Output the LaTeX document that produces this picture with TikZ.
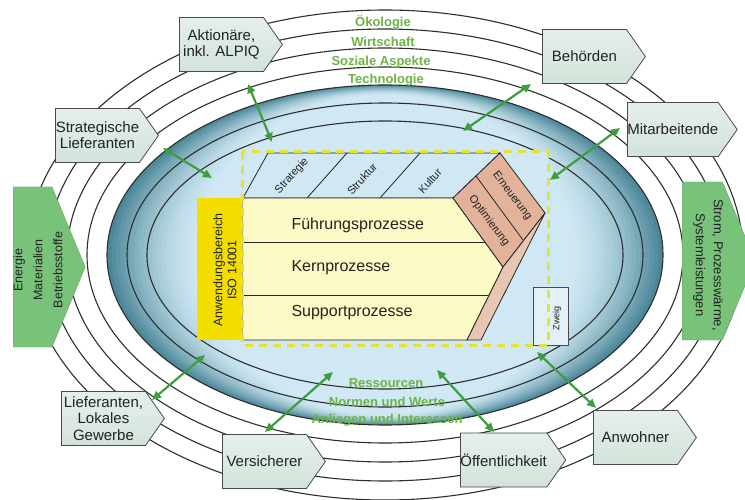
\documentclass[tikz,border=0pt]{standalone}
\usepackage{fontspec}
\setmainfont{Liberation Sans}
\usetikzlibrary{shapes.symbols,arrows.meta}

\definecolor{ringline}{HTML}{2E2E2E}
\definecolor{bedge}{HTML}{4B8799}
\definecolor{bcenter}{HTML}{CFE8F3}
\definecolor{boxfill}{HTML}{D2E3DA}
\definecolor{boxfilltop}{HTML}{E6EFEA}
\definecolor{boxedge}{HTML}{4A4A4A}
\definecolor{textdark}{HTML}{222222}
\definecolor{arrowgreen}{HTML}{3E9E3E}
\definecolor{biggreen}{HTML}{78C27A}
\definecolor{ringtext}{HTML}{6DB444}
\definecolor{isoyellow}{HTML}{F4DE00}
\definecolor{procyellow}{HTML}{FBFAC4}
\definecolor{salmon}{HTML}{E2B39A}
\definecolor{salmonlight}{HTML}{E9C6B2}
\definecolor{dashyellow}{HTML}{E4E236}

\tikzset{
  ringstroke/.style={draw=ringline, line width=1.1pt},
  stakeholder/.style={shape=signal, signal to=east, signal pointer angle=110,
    anchor=west, draw=boxedge, line width=0.8pt,
    top color=boxfilltop, bottom color=boxfill,
    minimum width=103pt, minimum height=54pt, inner sep=0pt, align=center,
    font=\fontsize{15}{16}\selectfont, text=textdark},
  flowarrow/.style={shape=signal, signal to=east, signal pointer angle=135,
    anchor=west, fill=biggreen, draw=biggreen!85!black, line width=0.4pt,
    inner sep=0pt},
  flowtext/.style={align=center, font=\fontsize{12.5}{20}\selectfont, text=textdark},
  ringlabel/.style={font=\bfseries\fontsize{13}{14}\selectfont, text=ringtext},
  link/.style={draw=arrowgreen, line width=2.2pt,
    {Triangle[length=9pt,width=8pt]}-{Triangle[length=9pt,width=8pt]}},
  procline/.style={draw=black!85, line width=0.8pt},
  proclabel/.style={font=\fontsize{16}{18}\selectfont, anchor=west, text=textdark},
  facetlabel/.style={font=\fontsize{11}{12}\selectfont, text=textdark},
}

\begin{document}
\begin{tikzpicture}[x=1pt, y=-1pt]
\useasboundingbox (0,0) rectangle (745,500);
\fill[white] (0,0) rectangle (745,500);

% outer white rings
\foreach \rx/\ry in {358/245, 338/226, 318/207, 298/188}
  \draw[ringstroke] (385,255) ellipse [x radius=\rx pt, y radius=\ry pt];

% blue core: stepped fill, dark at the sides, light towards the centre
\foreach \i [evaluate=\i as \rx using 278-4.5*\i,
             evaluate=\i as \ry using 170-0.5*\i,
             evaluate=\i as \pc using int(100-100*(1-\i/20)^1.6)] in {0,...,20}
  \fill[bcenter!\pc!bedge] (385,255) ellipse [x radius=\rx pt, y radius=\ry pt];
\foreach \rx/\ry in {278/170, 258/152, 238/134}
  \draw[ringstroke] (385,255) ellipse [x radius=\rx pt, y radius=\ry pt];

% management system frame
\fill[bcenter] (242,152) rectangle (548,345);

% strategy / structure / culture band
\draw[procline, fill=bcenter] (243,198) -- (268,153) -- (500,153) -- (453,198) -- cycle;
\draw[procline] (307,198) -- (347,153);
\draw[procline] (380,198) -- (420,153);
\node[facetlabel, rotate=48] (strat) at (292,176) {Strategie};
\node[facetlabel, rotate=48] (strukt) at (362,179) {Struktur};
\node[facetlabel, rotate=48] (kult) at (430,181) {Kultur};

% process block
\draw[procline, fill=procyellow] (242,198) -- (453,198) -- (503,267) -- (467,340) -- (242,340) -- cycle;
\draw[procline] (242,242) -- (485,242);
\draw[procline] (242,295) -- (489,295);
\node[proclabel] (fuehr) at (288,225) {Führungsprozesse};
\node[proclabel] (kern) at (288,268) {Kernprozesse};
\node[proclabel] (supp) at (288,313) {Supportprozesse};

% renewal / optimisation ribbon
\draw[procline, fill=salmon] (453,198) -- (500,153) -- (545,213) -- (503,267) -- cycle;
\draw[procline] (476,176) -- (523,240);
\draw[procline, fill=salmonlight] (503,267) -- (545,213) -- (481,340) -- (467,340) -- cycle;
\node[facetlabel, rotate=-53] (erneu) at (512,196) {Erneuerung};
\node[facetlabel, rotate=-53] (optim) at (489,221) {Optimierung};

% scope of ISO 14001
\fill[isoyellow] (197,198) rectangle (242,340);
\node[rotate=90, align=center, font=\fontsize{12.5}{14}\selectfont, text=textdark]
  (iso) at (225,270) {Anwendungsbereich\\ISO 14001};

% branch box
\draw[draw=boxedge, line width=0.8pt, fill=bcenter!60!white] (533,287) rectangle (568,345);
\node[rotate=90, font=\fontsize{9}{10}\selectfont, text=textdark] (zweig) at (557,318) {Zweig};

\draw[dashyellow, line width=3pt, dash pattern=on 8pt off 6pt] (242,152) rectangle (548,345);

% ring labels
\node[ringlabel] (oeko) at (383,22) {Ökologie};
\node[ringlabel] (wirt) at (383,42) {Wirtschaft};
\node[ringlabel] (sozi) at (381,62) {Soziale Aspekte};
\node[ringlabel] (tech) at (386,80) {Technologie};
\node[ringlabel] (ress) at (386,383) {Ressourcen};
\node[ringlabel] (norm) at (387,402) {Normen und Werte};
\node[ringlabel] (anli) at (387,420) {Anliegen und Interessen};

% link end points
\coordinate (a1) at (248,84);  \coordinate (a2) at (272,142);
\coordinate (s1) at (163,148); \coordinate (s2) at (212,178);
\coordinate (b1) at (531,84);  \coordinate (b2) at (463,131);
\coordinate (m1) at (620,128); \coordinate (m2) at (550,180);
\coordinate (l1) at (152,400); \coordinate (l2) at (205,355);
\coordinate (v1) at (265,432); \coordinate (v2) at (333,372);
\coordinate (o1) at (437,370); \coordinate (o2) at (494,432);
\coordinate (w1) at (537,352); \coordinate (w2) at (596,408);
\draw[link] (a1) -- (a2);
\draw[link] (s1) -- (s2);
\draw[link] (b1) -- (b2);
\draw[link] (m1) -- (m2);
\draw[link] (l1) -- (l2);
\draw[link] (v1) -- (v2);
\draw[link] (o1) -- (o2);
\draw[link] (w1) -- (w2);

% stakeholders (placed by their left edge)
\node[stakeholder] (aktion) at (179,44.5) {Aktionäre,\\inkl. ALPIQ};
\node[stakeholder] (stratlief) at (55,135.5) {Strategische\\Lieferanten};
\node[stakeholder] (behoerd) at (542,56.5) {Behörden};
\node[stakeholder] (mitarb) at (627,129.5) {Mitarbeitende};
\node[stakeholder, font=\fontsize{15}{16.5}\selectfont] (lokal) at (61,418.5) {Lieferanten,\\Lokales\\Gewerbe};
\node[stakeholder] (versich) at (222,461.5) {Versicherer};
\node[stakeholder] (oeffent) at (460,460) {Öffentlichkeit};
\node[stakeholder] (anwohn) at (593,437.5) {Anwohner};

% input and output flows
\node[flowarrow, minimum width=72pt, minimum height=160pt] (inflow) at (13,267) {};
\node[flowtext, rotate=90] (intext) at (38,270) {Energie\\Materialien\\Betriebsstoffe};
\node[flowarrow, minimum width=73pt, minimum height=158pt] (outflow) at (682,261) {};
\node[flowtext, rotate=-90, font=\fontsize{13}{18}\selectfont] (outtext) at (708,265) {Strom, Prozesswärme,\\Systemleistungen};
\end{tikzpicture}
\end{document}
